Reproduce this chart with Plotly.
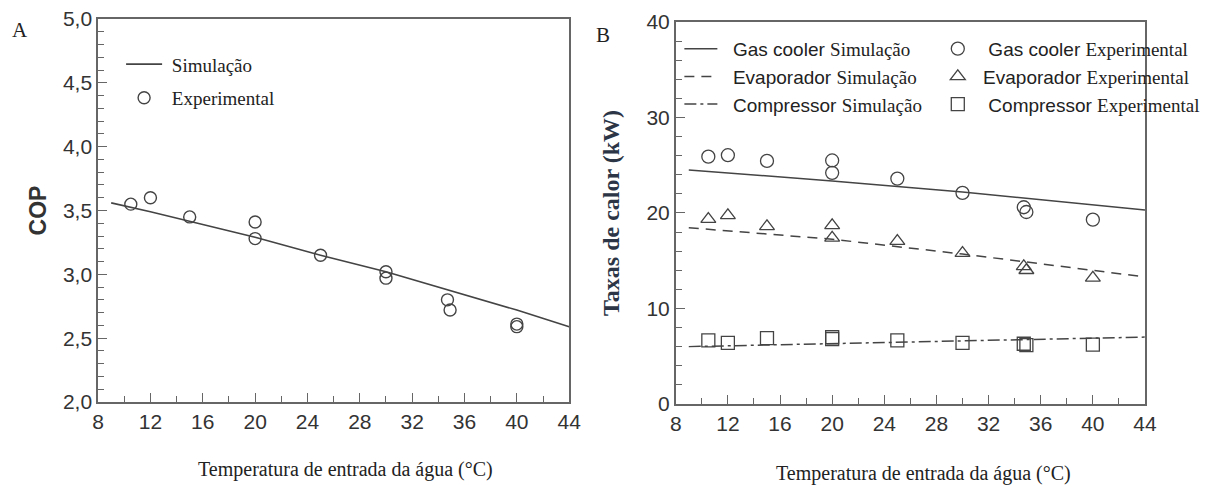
import plotly.graph_objects as go

# ---- Panel A: COP versus inlet water temperature ----
cop_sim_t = [9, 12, 20, 25, 30, 35, 40, 44]
cop_sim = [3.56, 3.49, 3.29, 3.15, 3.02, 2.87, 2.72, 2.59]
cop_exp_t = [10.5, 12, 15, 20, 20, 25, 30, 30, 34.7, 34.9, 40, 40]
cop_exp = [3.55, 3.60, 3.45, 3.41, 3.28, 3.15, 3.02, 2.97, 2.80, 2.72, 2.61, 2.59]

# ---- Panel B: heat rates (kW) ----
sim_t = [9, 20, 30, 44]
gc_sim = [24.5, 23.35, 22.2, 20.3]
ev_sim = [18.45, 17.25, 15.7, 13.3]
cp_sim = [6.0, 6.3, 6.55, 7.0]

exp_t = [10.5, 12, 15, 20, 20, 25, 30, 34.7, 34.9, 40]
gc_exp = [25.9, 26.05, 25.45, 25.5, 24.2, 23.6, 22.1, 20.6, 20.1, 19.3]
ev_exp = [19.35, 19.75, 18.6, 18.7, 17.4, 17.05, 15.8, 14.4, 14.0, 13.2]
cp_exp = [6.65, 6.4, 6.9, 7.0, 6.8, 6.65, 6.4, 6.3, 6.15, 6.2]

x_ticks = [8, 12, 16, 20, 24, 28, 32, 36, 40, 44]
x_title = "Temperatura de entrada da água (°C)"

INK = "#444444"
AXIS = "#666666"
SERIF = "Liberation Serif, Times New Roman, serif"
SANS = "Liberation Sans, Arial, sans-serif"
NB = "\u00a0"


def serif(txt):
    return f'<span style="font-family:{SERIF}">{txt}</span>'


fig = go.Figure()

# Panel A traces
fig.add_trace(go.Scatter(x=cop_sim_t, y=cop_sim, mode="lines", name=NB + "Simulação",
                         line=dict(color=INK, width=1.6), xaxis="x", yaxis="y",
                         legend="legend", legendgroup="a1"))
fig.add_trace(go.Scatter(x=cop_exp_t, y=cop_exp, mode="markers",
                         name=NB + "Experimental",
                         marker=dict(symbol="circle-open", size=12, color=INK,
                                     line=dict(width=1.4)),
                         xaxis="x", yaxis="y", legend="legend", legendgroup="a2"))

# Panel B simulation lines
sim_series = [("Gas cooler", gc_sim, "solid"),
              ("Evaporador", ev_sim, "10px,7px"),
              ("Compressor", cp_sim, "12px,4px,3px,4px")]
for i, (nm, ys, dash) in enumerate(sim_series):
    fig.add_trace(go.Scatter(x=sim_t, y=ys, mode="lines",
                             name=f"{NB * 2}{nm} {serif('Simulação')}",
                             line=dict(color=INK, width=1.5, dash=dash),
                             xaxis="x2", yaxis="y2", legend="legend2",
                             legendgroup=f"s{i}"))

# Panel B experimental points
exp_series = [("Gas cooler", gc_exp, "circle-open", 2),
              ("Evaporador", ev_exp, "triangle-up-open", 1),
              ("Compressor", cp_exp, "square-open", 2)]
for i, (nm, ys, sym, pad) in enumerate(exp_series):
    fig.add_trace(go.Scatter(x=exp_t, y=ys, mode="markers",
                             name=f"{NB * pad}{nm} {serif('Experimental')}",
                             marker=dict(symbol=sym, size=13, color=INK,
                                         line=dict(width=1.3)),
                             xaxis="x2", yaxis="y2", legend="legend3",
                             legendgroup=f"e{i}"))

tick_font = dict(family=SANS, size=21, color="#333333")


def xaxis_cfg(domain, anchor):
    return dict(domain=domain, anchor=anchor, range=[8, 44], tickvals=x_ticks,
                automargin=False,
                ticks="inside", ticklen=9, tickwidth=1.4, tickcolor=AXIS,
                minor=dict(dtick=2, tick0=8, ticks="inside", ticklen=6,
                           tickwidth=1.4, tickcolor=AXIS),
                showline=True, linecolor=AXIS, linewidth=1.6, mirror=True,
                showgrid=False, zeroline=False, tickfont=tick_font)


title_font = dict(family=SERIF, size=20, color="#222222")

fig.update_layout(
    width=1211, height=489,
    margin=dict(l=0, r=0, t=0, b=0, autoexpand=False),
    paper_bgcolor="white", plot_bgcolor="white",
    separators=",.",
    showlegend=True,
    xaxis=xaxis_cfg([0.081, 0.470], "y"),
    yaxis=dict(domain=[0.178, 0.961], anchor="x", range=[2.0, 5.0],
               automargin=False,
               dtick=0.5, tick0=2.0, tickformat=".1f",
               ticks="inside", ticklen=9, tickwidth=1.4, tickcolor=AXIS,
               minor=dict(dtick=0.1, ticks="inside", ticklen=6, tickwidth=1.4,
                          tickcolor=AXIS),
               showline=True, linecolor=AXIS, linewidth=1.6, mirror=True,
               showgrid=False, zeroline=False, tickfont=tick_font,
               title=dict(text="<b>COP</b>",
                          font=dict(family=SANS, size=23, color="#333333"),
                          standoff=10)),
    xaxis2=xaxis_cfg([0.558, 0.9455], "y2"),
    yaxis2=dict(domain=[0.174, 0.955], anchor="x2", range=[0, 40],
                automargin=False,
                dtick=10, tick0=0,
                ticks="inside", ticklen=9, tickwidth=1.4, tickcolor=AXIS,
                minor=dict(dtick=2, ticks="inside", ticklen=6, tickwidth=1.4,
                           tickcolor=AXIS),
                showline=True, linecolor=AXIS, linewidth=1.6, mirror=True,
                showgrid=False, zeroline=False, tickfont=tick_font,
                title=dict(text="<b>Taxas de calor (kW)</b>",
                           font=dict(family=SERIF, size=24, color="#2b3546"),
                           standoff=20)),
    legend=dict(x=0.100, y=0.9075, xanchor="left", yanchor="top",
                bgcolor="rgba(0,0,0,0)", tracegroupgap=6, itemwidth=36,
                font=dict(family=SERIF, size=19, color="#222222")),
    legend2=dict(x=0.561, y=0.939, xanchor="left", yanchor="top",
                 bgcolor="rgba(0,0,0,0)", tracegroupgap=0, itemwidth=33,
                 font=dict(family=SANS, size=19, color="#222222")),
    legend3=dict(x=0.7744, y=0.939, xanchor="left", yanchor="top",
                 bgcolor="rgba(0,0,0,0)", tracegroupgap=0,
                 font=dict(family=SANS, size=19, color="#222222")),
    annotations=[
        dict(text="A", x=10 / 1211, y=1 - 30 / 489, xref="paper", yref="paper",
             xanchor="left", yanchor="middle", showarrow=False,
             font=dict(family=SERIF, size=21, color="#222222")),
        dict(text="B", x=594 / 1211, y=1 - 35 / 489, xref="paper", yref="paper",
             xanchor="left", yanchor="middle", showarrow=False,
             font=dict(family=SERIF, size=21, color="#222222")),
        dict(text=x_title, x=345 / 1211, y=1 - 469 / 489, xref="paper",
             yref="paper", xanchor="center", yanchor="middle", showarrow=False,
             font=title_font),
        dict(text=x_title, x=923 / 1211, y=1 - 473 / 489, xref="paper",
             yref="paper", xanchor="center", yanchor="middle", showarrow=False,
             font=title_font),
    ],
)

fig.write_html("out.html")
